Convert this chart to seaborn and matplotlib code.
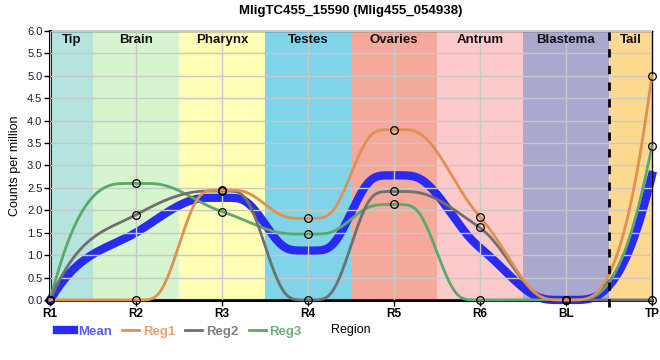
import matplotlib
matplotlib.use("Agg")
import matplotlib.pyplot as plt
import numpy as np
import pandas as pd
import seaborn as sns

# data
regions = ["R1", "R2", "R3", "R4", "R5", "R6", "BL", "TP"]
reg1 = [0.0, 0.0, 2.45, 1.82, 3.80, 1.85, 0.0, 5.0]
reg2 = [0.0, 1.90, 2.43, 0.0, 2.42, 1.62, 0.0, 0.0]
reg3 = [0.0, 2.60, 1.97, 1.47, 2.13, 0.0, 0.0, 3.43]
mean = [0.0, 1.50, 2.28, 1.10, 2.78, 1.16, 0.0, 2.78]

tissues = ["Tip", "Brain", "Pharynx", "Testes", "Ovaries", "Antrum", "Blastema", "Tail"]
tissue_spans = [(0, 0.5), (0.5, 1.5), (1.5, 2.5), (2.5, 3.5), (3.5, 4.5), (4.5, 5.5), (5.5, 6.5), (6.5, 7)]
tissue_colors = ["#b5e3de", "#d6f5cf", "#fefeb5", "#7fd4ea", "#f4a99b", "#fccaca", "#a9a9cf", "#fdd98f"]

series_colors = {"Mean": "#2a2af5", "Reg1": "#e0904f", "Reg2": "#6f6f6f", "Reg3": "#5aa86a"}
text_colors = {"Mean": "#5a5af5", "Reg1": "#eea070", "Reg2": "#7f7f7f", "Reg3": "#6db07b"}


def smooth_curve(y, plateau=0.2, sigma=0.07, n=100):
    """monotone cubic through equally spaced points, held flat around local extrema,
    then lightly rounded so the shoulders are soft"""
    y = np.asarray(y, dtype=float)
    k = len(y)
    s = np.diff(y)
    t = np.zeros(k)
    for i in range(1, k - 1):
        s0, s1 = s[i - 1], s[i]
        p = (s0 + s1) / 2
        t[i] = (np.sign(s0) + np.sign(s1)) * min(abs(s0), abs(s1), 0.5 * abs(p))
    for end, adj, sec in [(0, 1, s[0]), (k - 1, k - 2, s[-1])]:
        te = 3 * sec - t[adj]
        if np.sign(te) != np.sign(sec):
            te = 0.0
        t[end] = te
    xs, ys = [], []
    for i in range(k - 1):
        a0 = plateau if t[i] == 0 else 0.0
        a1 = plateau if t[i + 1] == 0 else 0.0
        w = 1 - a0 - a1
        u = np.arange(n) / n
        v = np.clip((u - a0) / w, 0, 1)
        h00 = 2 * v**3 - 3 * v**2 + 1
        h10 = v**3 - 2 * v**2 + v
        h01 = -2 * v**3 + 3 * v**2
        h11 = v**3 - v**2
        xs.append(i + u)
        ys.append(h00 * y[i] + h10 * t[i] * w + h01 * y[i + 1] + h11 * t[i + 1] * w)
    xs.append([k - 1.0])
    ys.append([y[-1]])
    xs, ys = np.concatenate(xs), np.concatenate(ys)

    # soft rounding, odd reflection at both ends keeps the end values and slopes
    m = int(4 * sigma * n)
    kern = np.exp(-0.5 * (np.arange(-m, m + 1) / (sigma * n)) ** 2)
    kern /= kern.sum()
    left = 2 * ys[0] - ys[1:m + 1][::-1]
    right = 2 * ys[-1] - ys[-m - 1:-1][::-1]
    ys = np.convolve(np.concatenate([left, ys, right]), kern, mode="valid")
    return xs, ys


plt.rcParams["font.family"] = ["Liberation Sans", "DejaVu Sans"]

fig = plt.figure(figsize=(6.6, 3.6), dpi=100)
ax = fig.add_axes([0.0758, 0.1667, 0.912, 0.7473])

for (a, b), c in zip(tissue_spans, tissue_colors):
    ax.axvspan(a, b, color=c, lw=0, zorder=0)
for name, (a, b) in zip(tissues, tissue_spans):
    ax.text((a + b) / 2, 5.8, name, ha="center", va="center", fontsize=9.5,
            fontweight="bold", color="#111111", zorder=5)

ax.set_axisbelow(False)
ax.grid(True, color="#c8c8c8", lw=1, zorder=1)

curves = []
for name, vals in [("Mean", mean), ("Reg1", reg1), ("Reg2", reg2), ("Reg3", reg3)]:
    xs, ys = smooth_curve(vals)
    curves.append(pd.DataFrame({"x": xs, "y": ys, "series": name}))
curves = pd.concat(curves, ignore_index=True)

sns.lineplot(data=curves[curves.series == "Mean"], x="x", y="y", color=series_colors["Mean"],
             lw=6, ax=ax, zorder=2, label="Mean", clip_on=False, sort=False)
for name in ["Reg3", "Reg2", "Reg1"]:
    sns.lineplot(data=curves[curves.series == name], x="x", y="y", color=series_colors[name],
                 lw=2, ax=ax, zorder=3, label=name, clip_on=False, sort=False)

pos = np.arange(len(regions))
for vals in [reg1, reg2, reg3]:
    ax.plot(pos, vals, ls="none", marker="o", ms=5.5, mfc="none", mec="black",
            mew=0.9, zorder=4, clip_on=False)

ax.plot([6.5, 6.5], [-0.15, 6.0], color="black", lw=2, ls=(0, (3, 3)), zorder=4, clip_on=False)

ax.set_xlim(0, 7)
ax.set_ylim(0, 6)
ax.set_xticks(pos)
ax.set_xticklabels(regions, fontsize=8.5, fontweight="bold")
ax.set_yticks(np.arange(0, 6.01, 0.5))
ax.set_yticklabels([f"{v:.1f}" for v in np.arange(0, 6.01, 0.5)], fontsize=8, color="#1a1a3a")
ax.tick_params(axis="both", length=4, width=1, pad=1.5)
ax.set_xlabel("Region", fontsize=9, labelpad=3)
ax.set_ylabel("Counts per million", fontsize=9, labelpad=4)
ax.set_title("MligTC455_15590 (Mlig455_054938)", fontsize=9.5, fontweight="bold", pad=12)

for side in ["top", "right"]:
    ax.spines[side].set_linewidth(1)
for side in ["left", "bottom"]:
    ax.spines[side].set_linewidth(2.2)

handles, labels = ax.get_legend_handles_labels()
order = ["Mean", "Reg1", "Reg2", "Reg3"]
hmap = dict(zip(labels, handles))
leg = ax.legend([hmap[k] for k in order], order, loc="center left", bbox_to_anchor=(0.003, -0.118),
                ncol=4, frameon=False, fontsize=9.5, handlelength=1.3, handletextpad=0.3,
                columnspacing=0.75, borderaxespad=0)
for txt, k in zip(leg.get_texts(), order):
    txt.set_color(text_colors[k])
    txt.set_fontweight("bold")

fig.savefig("out.png", dpi=100)
